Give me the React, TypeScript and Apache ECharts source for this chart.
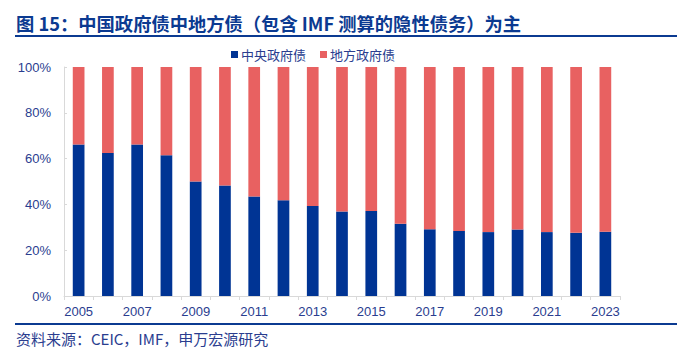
import React, { useEffect, useRef } from "react";
import * as echarts from "echarts";

const years = ["2005","2006","2007","2008","2009","2010","2011","2012","2013","2014","2015","2016","2017","2018","2019","2020","2021","2022","2023"];
const centralShare = [66.2,62.4,66.2,61.5,50.0,48.2,43.4,41.8,39.3,36.9,37.1,31.6,29.2,28.4,27.9,29.0,27.9,27.6,28.1];
const localShare = [33.8,37.6,33.8,38.5,50.0,51.8,56.6,58.2,60.7,63.1,62.9,68.4,70.8,71.6,72.1,71.0,72.1,72.4,71.9];
const seriesNames = ["中央政府债", "地方政府债"];
const titleText = "图 15：中国政府债中地方债（包含 IMF 测算的隐性债务）为主";
const sourceText = "资料来源：CEIC，IMF，申万宏源研究";

const BLUE = "#003494";
const RED = "#E86161";
const TEXT = "#2A3D8F";
const LINE = "#0B3A91";
const CJK = "'Noto Sans CJK SC', sans-serif";
const NUM = "'Liberation Sans', 'Noto Sans CJK SC', sans-serif";

export default function App() {
  const ref = useRef<HTMLDivElement>(null);
  useEffect(() => {
    if (!ref.current) return;
    const chart = echarts.init(ref.current, null, { renderer: "svg" });
    chart.setOption({
      animation: false,
      backgroundColor: "#ffffff",
      legend: {
        data: seriesNames,
        left: 226,
        top: 43,
        itemWidth: 7,
        itemHeight: 7,
        itemGap: 14,
        icon: "rect",
        textStyle: { fontFamily: CJK, fontSize: 13, color: TEXT, padding: [0, 0, 0, -2] },
      },
      grid: { left: 64, right: 62, top: 67, height: 229, containLabel: false },
      xAxis: {
        type: "category",
        data: years,
        axisLine: { lineStyle: { color: "#D9D9D9", width: 1 } },
        axisTick: { show: true, interval: 0, length: 4, lineStyle: { color: "#D9D9D9" } },
        axisLabel: { interval: 1, fontFamily: NUM, fontSize: 13, color: TEXT, margin: 9 },
      },
      yAxis: {
        type: "value",
        min: 0,
        max: 100,
        interval: 20,
        axisLine: { show: true, lineStyle: { color: "#D9D9D9", width: 1 } },
        axisTick: { show: true, inside: true, length: 3, lineStyle: { color: "#D9D9D9" } },
        splitLine: { show: false },
        axisLabel: { formatter: "{value}%", fontFamily: NUM, fontSize: 13, color: TEXT, margin: 13 },
      },
      series: [
        {
          name: seriesNames[0],
          type: "bar",
          stack: "total",
          data: centralShare,
          barWidth: "40%",
          itemStyle: { color: BLUE },
        },
        {
          name: seriesNames[1],
          type: "bar",
          stack: "total",
          data: localShare,
          barWidth: "40%",
          itemStyle: { color: RED },
        },
      ],
      graphic: [
        {
          type: "text",
          left: 16,
          top: 14,
          style: { text: titleText, fontFamily: CJK, fontSize: 18.3, fontWeight: "bold", fill: LINE },
        },
        {
          type: "line",
          shape: { x1: 15, y1: 36, x2: 677, y2: 36 },
          style: { stroke: LINE, lineWidth: 2 },
        },
        {
          type: "line",
          shape: { x1: 15, y1: 324, x2: 677, y2: 324 },
          style: { stroke: LINE, lineWidth: 2 },
        },
        {
          type: "text",
          left: 16,
          top: 331,
          style: { text: sourceText, fontFamily: CJK, fontSize: 15, fill: TEXT },
        },
      ],
    });
    return () => chart.dispose();
  }, []);
  return <div ref={ref} style={{ width: 682, height: 352, position: "fixed", left: 0, top: 0 }} />;
}
